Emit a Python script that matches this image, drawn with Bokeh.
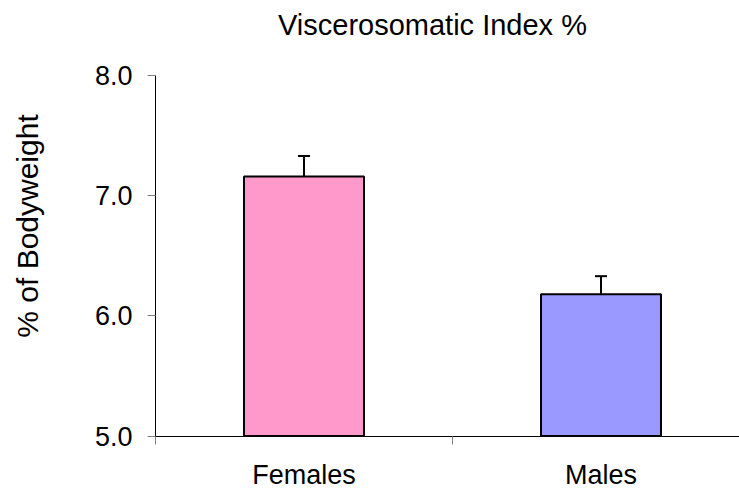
import math
from bokeh.plotting import figure
from bokeh.models import (ColumnDataSource, FixedTicker, Range1d, Whisker, TeeHead,
                          NumeralTickFormatter, Label, LinearAxis)
from bokeh.embed import file_html
from bokeh.resources import INLINE

# ---- data ----
categories = ["Females", "Males"]
means = [7.16, 6.18]
errors = [0.17, 0.15]
colors = ["#FF99CC", "#9999FF"]
y_ticks = [5.0, 6.0, 7.0, 8.0]
title_text = "Viscerosomatic Index %"
y_label = "% of Bodyweight"

FONT = "Liberation Sans"

# ---- layout (pixels) ----
W, H = 739, 490
PX_LEFT = 155.0      # pixel of x = 0 (y axis)
PX_PER_X = 297.0     # pixels per category
PY_TOP = 75.0        # pixel of y = 8
PY_BOT = 435.5       # pixel of y = 5
Y0, Y1 = y_ticks[0], y_ticks[-1]
PX_PER_Y = (PY_BOT - PY_TOP) / (Y1 - Y0)

x_start = -PX_LEFT / PX_PER_X
x_end = (W - PX_LEFT) / PX_PER_X
y_end = Y1 + PY_TOP / PX_PER_Y
y_start = Y0 - (H - PY_BOT) / PX_PER_Y

def dx(px):
    return (px - PX_LEFT) / PX_PER_X

def dy(py):
    return Y1 - (py - PY_TOP) / PX_PER_Y

xpos = [i + 0.5 for i in range(len(categories))]
upper = [m + e for m, e in zip(means, errors)]
src = ColumnDataSource(dict(x=xpos, top=means, color=colors, upper=upper, cat=categories))

p = figure(width=W, height=H, output_backend="svg", toolbar_location=None,
           x_range=Range1d(x_start, x_end), y_range=Range1d(y_start, y_end),
           x_axis_type=None, y_axis_type=None, min_border=0,
           min_border_left=0, min_border_right=0, min_border_top=0, min_border_bottom=0)
p.outline_line_color = None
p.background_fill_color = "white"
p.border_fill_color = "white"

p.vbar(x="x", top="top", bottom=Y0, width=0.404, fill_color="color",
       line_color="black", line_width=2, source=src)

w = Whisker(base="x", lower="top", upper="upper", source=src, dimension="height",
            line_color="black", line_width=2,
            upper_head=TeeHead(size=12, line_color="black", line_width=2),
            lower_head=None)
p.add_layout(w)

# x axis (category axis drawn at y = 5)
xa = LinearAxis(fixed_location=Y0, bounds=(0, x_end))
xa.ticker = FixedTicker(ticks=xpos, minor_ticks=list(range(len(categories) + 1)))
xa.major_label_overrides = {x: c for x, c in zip(xpos, categories)}
xa.major_tick_line_color = None
xa.major_tick_out = 0
xa.major_tick_in = 0
xa.minor_tick_line_color = "#808080"
xa.minor_tick_out = 8
xa.minor_tick_in = 0
xa.axis_line_color = "black"
xa.major_label_text_font = FONT
xa.major_label_text_font_size = "27px"
xa.major_label_text_line_height = 1.0
xa.major_label_text_color = "black"
xa.major_label_standoff = 16
p.add_layout(xa, "below")

# y axis drawn at x = 0
ya = LinearAxis(fixed_location=0, bounds=(Y0, Y1))
ya.ticker = FixedTicker(ticks=y_ticks, minor_ticks=[])
ya.formatter = NumeralTickFormatter(format="0.0")
ya.major_tick_line_color = "#808080"
ya.major_tick_out = 8
ya.major_tick_in = 0
ya.minor_tick_line_color = None
ya.axis_line_color = "black"
ya.major_label_text_font = FONT
ya.major_label_text_font_size = "27px"
ya.major_label_text_color = "black"
ya.major_label_standoff = 15
p.add_layout(ya, "left")

# chart title
title = Label(x=dx(432), y=dy(24.5), text=title_text,
              text_font=FONT, text_font_size="29px", text_color="black",
              text_align="center", text_baseline="alphabetic")
p.add_layout(title)

# y axis title, centred on the chart area as in the reference
ylab = Label(x=dx(26.5), y=dy(225.5), text=y_label, angle=math.pi / 2,
             text_font=FONT, text_font_size="30px", text_color="black",
             text_align="center", text_baseline="alphabetic")
p.add_layout(ylab)

open("out.html", "w").write(file_html(p, INLINE))
